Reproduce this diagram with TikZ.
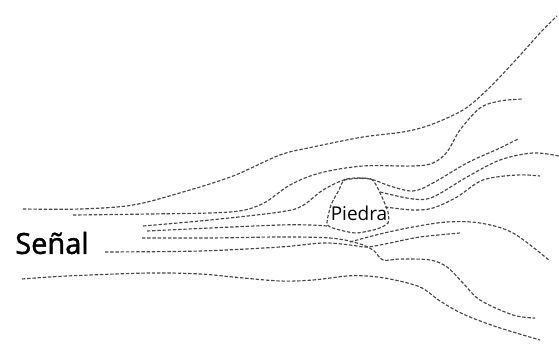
\documentclass[tikz,border=0pt]{standalone}
\usepackage{fontspec}
\setmainfont{Open Sans}
\begin{document}
\begin{tikzpicture}[x=1pt,y=-1pt,
  flow/.style={draw=black!72,line width=1.15pt,dash pattern=on 3.4pt off 1.8pt},
  lbl/.style={inner sep=0pt,text=black}]
\useasboundingbox (0,0) rectangle (559,347);
% streamlines, top to bottom
\draw[flow] plot[smooth,tension=0.55] coordinates {(23,209) (80,209) (133,205) (183,192) (233,176) (280,155) (313,147) (363,137) (403,132) (430,125) (463,110) (487,90) (513,63) (540,33) (557,16)};
\draw[flow] plot[smooth,tension=0.55] coordinates {(73,215) (150,214) (230,212) (262,204) (290,185) (320,173) (363,166) (413,166) (433,163) (447,152) (460,130) (480,108) (500,101) (523,99)};
\draw[flow] plot[smooth,tension=0.55] coordinates {(143,226) (210,220) (280,212) (302,206) (323,190) (347,179) (370,179) (390,186) (413,191) (433,183) (467,163) (500,148) (518,139)};
\draw[flow] plot[smooth,tension=0.55] coordinates {(147,231) (210,228) (280,225) (310,225) (327,226)};
\draw[flow] plot[smooth,tension=0.55] coordinates {(380,192) (413,199) (433,197) (467,177) (500,160) (533,153) (559,156)};
\draw[flow] plot[smooth,tension=0.55] coordinates {(385,207) (413,210) (433,208) (457,197) (483,180) (517,175) (540,176)};
\draw[flow] plot[smooth,tension=0.55] coordinates {(350,242) (380,234) (413,227) (447,222) (480,223) (513,233) (550,261)};
\draw[flow] plot[smooth,tension=0.55] coordinates {(142,238) (210,238) (280,237) (330,238) (357,243) (373,250) (383,260) (400,259) (430,260) (447,267) (463,283) (480,300) (513,315) (535,318)};
\draw[flow] plot[smooth,tension=0.55] coordinates {(105,252) (200,251) (280,247) (323,243) (350,245) (367,247) (390,243) (420,237) (460,233)};
\draw[flow] plot[smooth,tension=0.55] coordinates {(22,279) (67,276) (150,273) (200,274) (233,277) (280,281) (313,280) (347,276) (367,276) (390,279) (420,287) (440,301) (463,314) (497,327) (540,340)};
% the stone
\draw[flow] plot[smooth cycle,tension=0.4] coordinates {(345,180) (371,179) (381,195) (388,212) (388,223) (377,229) (356,233) (336,229) (327,224) (331,205) (339,190)};
\node[lbl,font=\fontsize{19}{19}\selectfont] (piedra) at (359,213) {Piedra};
\node[lbl,font=\fontsize{29}{29}\selectfont\addfontfeature{FakeBold=1.5}] (senal) at (52,243) {Señal};
\end{tikzpicture}
\end{document}
